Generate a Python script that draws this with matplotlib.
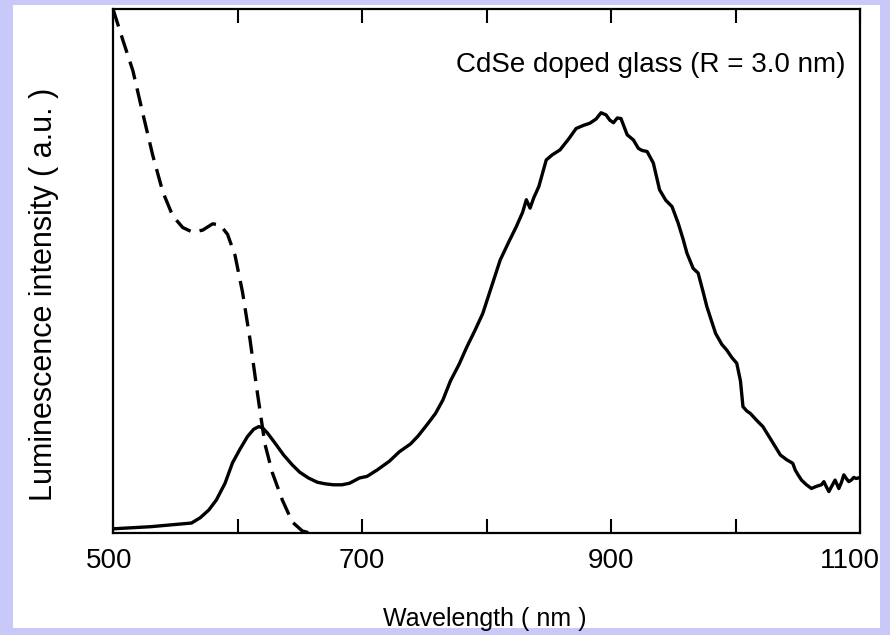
import matplotlib
matplotlib.use("Agg")
import matplotlib.pyplot as plt
import matplotlib.transforms as mtransforms
from matplotlib.patches import Rectangle

plt.rcParams['font.family'] = ['Liberation Sans', 'DejaVu Sans']

# absorption (dashed) curve
abs_wl = [500, 508, 516, 524, 532, 540, 548, 556, 564, 572, 580, 586, 592,
          598, 604, 610, 616, 622, 628, 636, 644, 652, 658]
abs_int = [1.0, 0.94, 0.882, 0.80, 0.72, 0.651, 0.605, 0.583, 0.574, 0.578,
           0.590, 0.588, 0.570, 0.530, 0.460, 0.370, 0.267, 0.170, 0.115,
           0.063, 0.021, 0.004, 0.0]

# luminescence (solid) curve
lum_wl = [500, 530, 563, 570, 577, 583, 590, 596, 602, 608, 613, 617, 620,
          624, 630, 637, 644, 650, 657, 664, 670, 677, 684, 690, 698, 704,
          712, 722, 730, 739, 745, 752, 759, 765, 771, 778, 784, 791, 797,
          804, 811, 818, 824, 829, 832, 835, 838, 842, 848, 853, 859, 866,
          872, 878, 883, 888, 892, 896, 899, 902, 905, 908, 913, 918, 922,
          925, 929, 934, 939, 944, 949, 954, 958, 961, 966, 970, 974, 977,
          980, 984, 989, 993, 997, 1001, 1004, 1006, 1009, 1012, 1017, 1022,
          1028, 1036, 1041, 1046, 1048, 1050, 1053, 1057, 1061, 1065, 1069,
          1071, 1073, 1075, 1077, 1080, 1083, 1085, 1087, 1089, 1091, 1093,
          1095, 1097, 1100]
lum_int = [0.008, 0.012, 0.019, 0.029, 0.044, 0.063, 0.095, 0.134, 0.160,
           0.184, 0.198, 0.203, 0.201, 0.191, 0.172, 0.149, 0.130, 0.116,
           0.105, 0.097, 0.094, 0.092, 0.092, 0.095, 0.105, 0.108, 0.120,
           0.137, 0.155, 0.170, 0.185, 0.206, 0.228, 0.254, 0.290, 0.322,
           0.354, 0.388, 0.419, 0.470, 0.521, 0.556, 0.585, 0.612, 0.636,
           0.620, 0.640, 0.661, 0.712, 0.722, 0.731, 0.752, 0.772, 0.778,
           0.782, 0.790, 0.802, 0.798, 0.788, 0.783, 0.792, 0.791, 0.760,
           0.750, 0.734, 0.730, 0.728, 0.706, 0.655, 0.635, 0.623, 0.591,
           0.560, 0.534, 0.505, 0.496, 0.460, 0.432, 0.410, 0.381, 0.360,
           0.349, 0.335, 0.324, 0.290, 0.241, 0.233, 0.228, 0.215, 0.203,
           0.180, 0.149, 0.140, 0.133, 0.120, 0.112, 0.101, 0.092, 0.085,
           0.089, 0.092, 0.098, 0.088, 0.079, 0.088, 0.101, 0.085, 0.096,
           0.111, 0.104, 0.098, 0.101, 0.106, 0.104, 0.106]

ticks = [500, 600, 700, 800, 900, 1000, 1100]
tick_labels = ['500', '', '700', '', '900', '', '1100']

fig = plt.figure(figsize=(8.9, 6.35), dpi=100, facecolor='#C9C9F9')
fig.add_artist(Rectangle((13 / 890, 7 / 635), 867 / 890, 623 / 635,
                         transform=fig.transFigure, facecolor='white',
                         edgecolor='none', zorder=-10))

ax = fig.add_axes([113 / 890, 102 / 635, 747 / 890, 524 / 635])
ax.set_facecolor('none')

ax.plot(abs_wl, abs_int, color='black', lw=2.4, ls=(0, (5.5, 2.8)))
ax.plot(lum_wl, lum_int, color='black', lw=2.4)

ax.set_xlim(500, 1100)
ax.set_ylim(0, 1.0)
ax.set_xticks(ticks)
ax.set_xticklabels(tick_labels)
ax.set_yticks([])
ax.tick_params(axis='x', direction='in', length=10, width=1.5, top=True,
               labelsize=20, pad=11)
for s in ax.spines.values():
    s.set_linewidth(1.6)

# nudge the end labels a little inward like in the scan
shift = {'500': -3 / 72, '1100': -7 / 72}
for lab in ax.get_xticklabels():
    if lab.get_text() in shift:
        lab.set_transform(lab.get_transform() + mtransforms.ScaledTranslation(
            shift[lab.get_text()], 0, fig.dpi_scale_trans))

ax.text(0.98, 0.893, 'CdSe doped glass (R = 3.0 nm)', transform=ax.transAxes,
        ha='right', va='center', fontsize=20)

ax.set_xlabel('Wavelength ( nm )', fontsize=18)
ax.xaxis.label.set_va('center')
ax.xaxis.set_label_coords(0.498, -0.164)
ax.set_ylabel('Luminescence intensity ( a.u. )', fontsize=22)
ax.yaxis.label.set_va('center')
ax.yaxis.set_label_coords(-0.092, 0.456)

fig.savefig('out.png', dpi=100, facecolor=fig.get_facecolor())
